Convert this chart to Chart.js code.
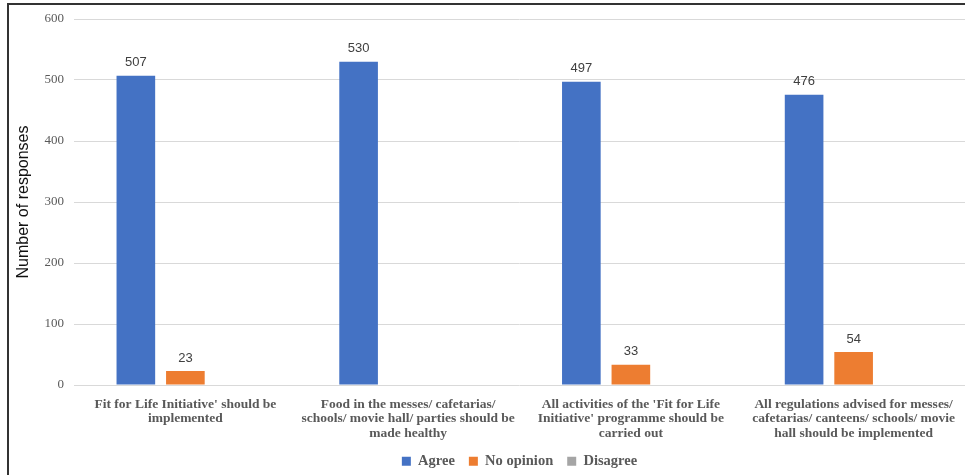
<!DOCTYPE html>
<html>
<head>
<meta charset="utf-8">
<script src="https://cdn.jsdelivr.net/npm/chart.js@4/dist/chart.umd.min.js"></script>
<style>
    body { margin: 0; background: #fff; }
    #wrap { position: relative; width: 965px; height: 475px; }
    #frame {
        position: absolute; left: 7px; top: 3px; right: 0; bottom: 0;
        border-left: 2px solid #333; border-top: 2px solid #333;
    }
    #Chart { position: absolute; left: 0; top: 0; }
</style>
</head>
<body>
<div id="wrap">
    <div id="frame"></div>
    <canvas id="Chart" width="965" height="475"></canvas>
</div>
<script>
// * Categories (multi-line axis labels)
const categories = [
    ["Fit for Life Initiative' should be", 'implemented'],
    ['Food in the messes/ cafetarias/', 'schools/ movie hall/ parties should be', 'made healthy'],
    ["All activities of the 'Fit for Life", "Initiative' programme should be", 'carried out'],
    ['All regulations advised for messes/', 'cafetarias/ canteens/ schools/ movie', 'hall should be implemented']
]

// * Series values
const agree = [507, 530, 497, 476]
const noOpinion = [23, 0, 33, 54]
const disagree = [0, 0, 0, 0]

// * Y axis ticks
const yMin = 0
const yMax = 600
const yStep = 100

const serif = "'Liberation Serif', 'Times New Roman', serif"
const sans = "'Liberation Sans', Arial, sans-serif"

// * Value labels above the bars (zeros are left out)
const barLabels = {
    id: 'barLabels',
    afterDatasetsDraw(chart) {
        const ctx = chart.ctx
        ctx.save()
        ctx.font = '13px ' + sans
        ctx.fillStyle = '#404040'
        ctx.textAlign = 'center'
        ctx.textBaseline = 'middle'
        chart.data.datasets.forEach((ds, i) => {
            chart.getDatasetMeta(i).data.forEach((bar, j) => {
                const v = ds.data[j]
                if (!v) return
                ctx.fillText(String(v), bar.x, bar.y - 13)
            })
        })
        ctx.restore()
    }
}

const data = {
    labels: categories,
    datasets: [{
        label: 'Agree',
        data: agree,
        backgroundColor: '#4472C4',
    }, {
        label: 'No opinion',
        data: noOpinion,
        backgroundColor: '#ED7D31',
    }, {
        label: 'Disagree',
        data: disagree,
        backgroundColor: '#A5A5A5',
    }],
}

const config = {
    type: 'bar',
    data,
    plugins: [barLabels],
    options: {
        responsive: false,
        animation: false,
        categoryPercentage: 0.667,
        barPercentage: 0.78,
        layout: {
            padding: { top: 19, right: 0, bottom: 0, left: 0 }
        },
        plugins: {
            tooltip: { enabled: false },
            legend: {
                position: 'bottom',
                fullSize: false,
                maxHeight: 35,
                labels: {
                    boxWidth: 9,
                    boxHeight: 9,
                    padding: 14,
                    color: '#595959',
                    font: { family: serif, size: 14.5, weight: 'bold' }
                }
            }
        },
        scales: {
            x: {
                grid: { display: false },
                border: { display: false },
                ticks: {
                    padding: 4,
                    maxRotation: 0,
                    autoSkip: false,
                    color: '#595959',
                    font: { family: serif, size: 13.5, weight: 'bold', lineHeight: 1.08 }
                },
                afterFit(scale) { scale.height = 55 }
            },
            y: {
                min: yMin,
                max: yMax,
                border: { display: false },
                grid: { color: '#d9d9d9', drawTicks: false },
                ticks: {
                    stepSize: yStep,
                    padding: 10,
                    color: '#595959',
                    font: { family: serif, size: 13 }
                },
                title: {
                    display: true,
                    text: 'Number of responses',
                    color: '#111',
                    padding: { top: 14, bottom: 0 },
                    font: { family: sans, size: 16 }
                },
                afterFit(scale) { scale.width = 74 }
            }
        }
    }
}

const barChart = new Chart(document.getElementById('Chart'), config)
</script>
</body>
</html>
